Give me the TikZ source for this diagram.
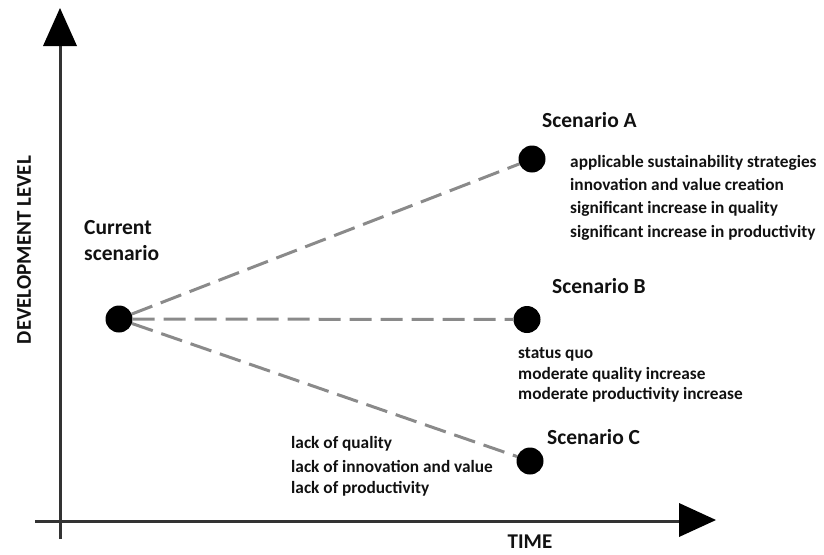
\documentclass[tikz,border=0pt]{standalone}
\usepackage{fontspec}
\setmainfont{Carlito}
\definecolor{axisgray}{HTML}{333333}
\definecolor{linkgray}{HTML}{8A8A8A}
\definecolor{ink}{HTML}{111111}
\begin{document}
\begin{tikzpicture}[x=1pt,y=-1pt,
  axisline/.style={draw=axisgray, line width=3pt},
  tiphead/.style={fill=black},
  dot/.style={circle, fill=black, minimum size=27pt, inner sep=0pt},
  link/.style={draw=linkgray, line width=3pt, dash pattern=on 22pt off 9pt},
  title/.style={font=\bfseries\fontsize{21.5}{25}\selectfont, text=ink, anchor=base west, inner sep=0pt},
  desc/.style={font=\bfseries\fontsize{17.3}{21}\selectfont, text=ink, anchor=base west, inner sep=0pt},
  axislabel/.style={font=\bfseries\fontsize{21}{25}\selectfont, text=ink, inner sep=0pt}]
\useasboundingbox (0,0) rectangle (824,554);

% axes
\coordinate (ybot) at (60.5,539);
\coordinate (ytop) at (60.5,46);
\coordinate (xleft) at (35,521);
\coordinate (xright) at (680,521);
\draw[axisline] (ybot) -- (ytop);
\draw[axisline] (xleft) -- (xright);
\fill[tiphead] (43,46) -- (60,8) -- (77,46) -- cycle;
\fill[tiphead] (679,503) -- (716,520) -- (679,537) -- cycle;

\node[axislabel, anchor=base] (time) at (530,548) {TIME};
\node[axislabel, rotate=90] (level) at (24,250) {DEVELOPMENT LEVEL};

% scenario points
\node[dot] (cur) at (119,319) {};
\node[dot] (sa) at (532,159) {};
\node[dot] (sb) at (527,319.5) {};
\node[dot] (sc) at (530,461) {};

\draw[link] (cur) -- (sa);
\draw[link] (cur) -- (sb);
\draw[link] (cur) -- (sc);

% labels
\node[title] (curl1) at (84,234) {Current};
\node[title] (curl2) at (84,260) {scenario};
\node[title] (tA) at (542,127) {Scenario A};
\node[title] (tB) at (552,293) {Scenario B};
\node[title] (tC) at (547,444) {Scenario C};

\node[desc] (a1) at (570,167) {applicable sustainability strategies};
\node[desc] (a2) at (570,190) {innovation and value creation};
\node[desc] (a3) at (570,213) {significant increase in quality};
\node[desc] (a4) at (570,237) {significant increase in productivity};

\node[desc] (b1) at (518,358) {status quo};
\node[desc] (b2) at (518,379) {moderate quality increase};
\node[desc] (b3) at (518,399) {moderate productivity increase};

\node[desc] (c1) at (291,448) {lack of quality};
\node[desc] (c2) at (291,472) {lack of innovation and value};
\node[desc] (c3) at (291,493) {lack of productivity};
\end{tikzpicture}
\end{document}
